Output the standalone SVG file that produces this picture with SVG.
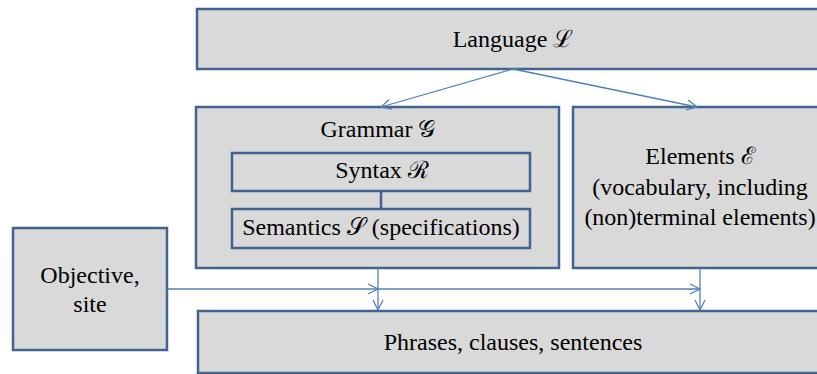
<svg xmlns="http://www.w3.org/2000/svg" width="817" height="374" viewBox="0 0 817 374">
<style>
.box{fill:#D9D9D9;stroke:#41648F;stroke-width:2.5}
.t{font-family:'Liberation Serif','Times New Roman',Times,serif;font-size:24px;fill:#000;text-anchor:middle}
.c{fill:none;stroke:#4F81BD;stroke-width:1.3}
.link{stroke:#41648F;stroke-width:2.5}
</style>
<defs>
<marker id="ah" viewBox="0 0 12 12" refX="11" refY="6" markerWidth="12" markerHeight="12" markerUnits="userSpaceOnUse" orient="auto">
<path d="M1,1 L11,6 L1,11" fill="none" stroke="#4F81BD" stroke-width="1.3"/>
</marker>
</defs>
<g id="language">
<rect class="box" x="197" y="9" width="640" height="60"/>
<text class="t" x="513" y="47">Language ℒ</text>
</g>
<g id="grammar">
<rect class="box" x="196" y="107" width="363" height="161"/>
<text class="t" x="378" y="137">Grammar 𝒢</text>
</g>
<g id="syntax">
<rect class="box" x="232" y="153" width="298" height="38"/>
<text class="t" x="382" y="178">Syntax ℛ</text>
</g>
<g id="semantics">
<rect class="box" x="232" y="209" width="298" height="39"/>
<text class="t" x="381" y="235">Semantics 𝒮 (specifications)</text>
</g>
<g id="elements">
<rect class="box" x="573" y="107" width="264" height="161"/>
<text class="t" x="700" y="164">Elements ℰ</text>
<text class="t" x="700" y="195">(vocabulary, including</text>
<text class="t" x="700" y="225">(non)terminal elements)</text>
</g>
<g id="objective">
<rect class="box" x="13" y="228" width="154" height="122"/>
<text class="t" x="90" y="283">Objective,</text>
<text class="t" x="90" y="312">site</text>
</g>
<g id="phrases">
<rect class="box" x="198" y="311" width="640" height="62"/>
<text class="t" x="513" y="350">Phrases, clauses, sentences</text>
</g>
<g id="connectors">
<line class="link" x1="381" y1="191" x2="381" y2="209"/>
<path class="c" d="M513,69 L381,107" marker-end="url(#ah)"/>
<path class="c" d="M513,69 L697,107" marker-end="url(#ah)"/>
<path class="c" d="M167,289 H378" marker-end="url(#ah)"/>
<path class="c" d="M378,289 H700" marker-end="url(#ah)"/>
<path class="c" d="M378,268 V310" marker-end="url(#ah)"/>
<path class="c" d="M700,268 V310" marker-end="url(#ah)"/>
</g>
</svg>
